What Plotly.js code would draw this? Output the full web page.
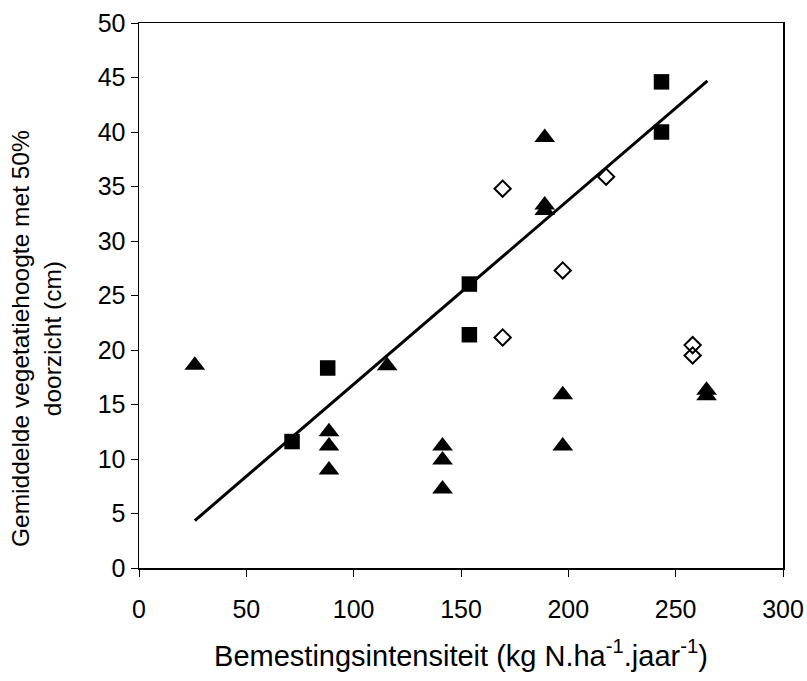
<!DOCTYPE html>
<html>
<head>
<meta charset="utf-8">
<script src="https://cdn.plot.ly/plotly-3.0.1.min.js"></script>
<style>html,body{margin:0;padding:0;background:#fff}#chart{width:807px;height:681px}</style>
</head>
<body>
<div id="chart"></div>
<script>
// Triangles (filled)
const triX = [26, 88.5, 88.5, 88.5, 115.6, 141.4, 141.4, 141.4, 189, 189, 189, 197.4, 197.4, 264.4, 264.4];
const triY = [18.6, 12.5, 11.2, 9.0, 18.55, 11.2, 9.9, 7.25, 39.5, 33.3, 32.8, 15.9, 11.2, 16.3, 15.8];
// Squares (filled)
const sqX = [71.3, 87.9, 153.9, 153.9, 243.4, 243.4];
const sqY = [11.6, 18.35, 26.05, 21.4, 44.6, 40.0];
// Diamonds (open)
const diaX = [169.4, 169.4, 197.4, 217.6, 257.9, 257.9];
const diaY = [34.8, 21.15, 27.3, 35.9, 20.45, 19.5];
// Trend line
const lineX = [26, 264.8];
const lineY = [4.35, 44.7];
const xTicks = [0, 50, 100, 150, 200, 250, 300];
const yTicks = [0, 5, 10, 15, 20, 25, 30, 35, 40, 45, 50];
const xTitle = 'Bemestingsintensiteit (kg N.ha<sup>-1</sup>.jaar<sup>-1</sup>)';
const yTitle = 'Gemiddelde vegetatiehoogte met 50%<br>doorzicht (cm)';

const FONT = 'Liberation Sans, Arial, sans-serif';
const data = [
  {x: lineX, y: lineY, mode: 'lines', line: {color: '#000', width: 3}, hoverinfo: 'skip'},
  {x: triX, y: triY, mode: 'markers', marker: {symbol: 'triangle-up', size: 18, color: '#000'}},
  {x: sqX, y: sqY, mode: 'markers', marker: {symbol: 'square', size: 15.5, color: '#000'}},
  {x: diaX, y: diaY, mode: 'markers', marker: {symbol: 'diamond-open', size: 12.5, color: '#000', line: {width: 2, color: '#000'}}}
];
const layout = {
  width: 807, height: 681,
  margin: {l: 139, r: 24, t: 23, b: 113},
  showlegend: false,
  paper_bgcolor: '#fff', plot_bgcolor: '#fff',
  font: {family: FONT, color: '#000', size: 24},
  xaxis: {
    range: [0, 300], tickvals: xTicks, ticktext: xTicks.map(String),
    showgrid: false, zeroline: false, showline: true, linecolor: '#000', linewidth: 1.5, mirror: true,
    ticks: 'outside', ticklen: 7, tickcolor: '#000', tickwidth: 1,
    ticklabelstandoff: 11,
    tickfont: {family: FONT, size: 25},
    title: {text: xTitle, font: {family: FONT, size: 29}}
  },
  yaxis: {
    range: [0, 50], tickvals: yTicks, ticktext: yTicks.map(String),
    showgrid: false, zeroline: false, showline: true, linecolor: '#000', linewidth: 1.5, mirror: true,
    ticks: 'outside', ticklen: 7, tickcolor: '#000', tickwidth: 1,
    tickfont: {family: FONT, size: 25}
  },
  annotations: [{
    text: yTitle, textangle: -90, showarrow: false,
    xref: 'paper', yref: 'paper', x: (36 - 139) / 644, y: (568 - 339) / 545,
    xanchor: 'center', yanchor: 'middle',
    font: {family: FONT, size: 24.5, color: '#000'}
  }]
};
Plotly.newPlot('chart', data, layout, {displayModeBar: false, staticPlot: true});
</script>
</body>
</html>
